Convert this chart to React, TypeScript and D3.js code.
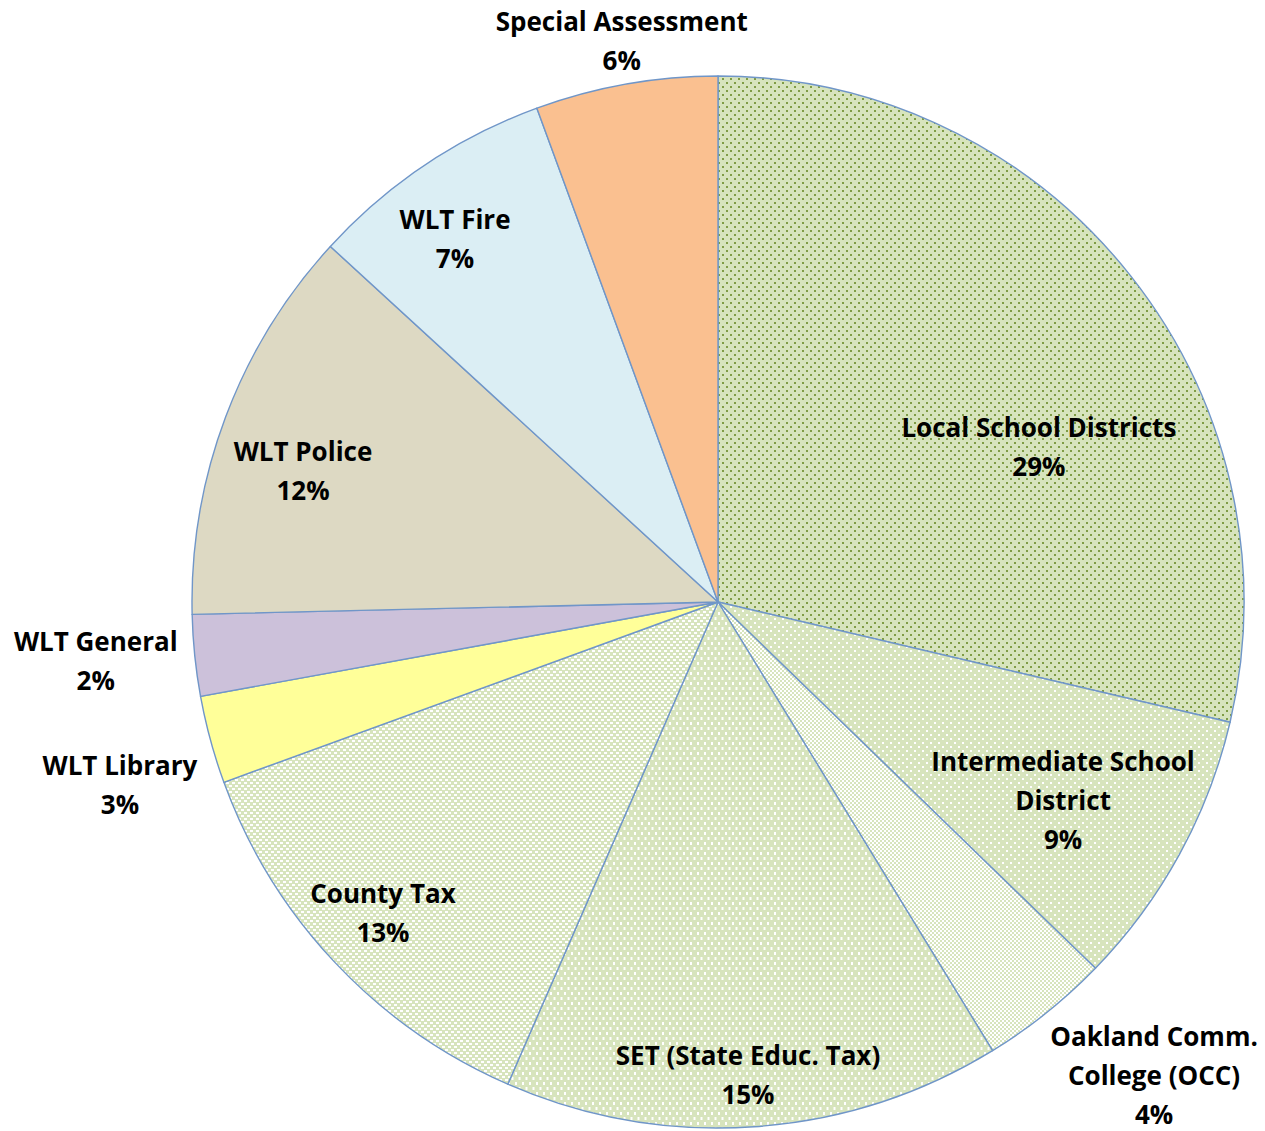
import React from "react";
import * as d3 from "d3";

const categories = [
  "Local School Districts",
  "Intermediate School|District",
  "Oakland Comm.|College (OCC)",
  "SET (State Educ. Tax)",
  "County Tax",
  "WLT Library",
  "WLT General",
  "WLT Police",
  "WLT Fire",
  "Special Assessment",
];
const values = [28.7, 8.6, 4.0, 15.3, 12.9, 2.7, 2.5, 12.2, 7.6, 5.6];
const percentLabels = ["29%", "9%", "4%", "15%", "13%", "3%", "2%", "12%", "7%", "6%"];

// label placement as fractions of the radius (x, y) from centre
const labelOffsets: [number, number][] = [
  [0.61, -0.296],
  [0.656, 0.376],
  [0.829, 0.9],
  [0.057, 0.898],
  [-0.637, 0.59],
  [-1.137, 0.347],
  [-1.183, 0.111],
  [-0.789, -0.25],
  [-0.5, -0.691],
  [-0.183, -1.067],
];

const fills = [
  "url(#pLocal)",
  "url(#pInter)",
  "url(#pOcc)",
  "url(#pSet)",
  "url(#pCounty)",
  "#ffff99",
  "#ccc1da",
  "#ddd9c3",
  "#dbeef4",
  "#fac090",
];

const W = 1265;
const H = 1131;
const cx = 718;
const cy = 602;
const R = 526;
const GREEN = "#d7e4bd";

export default function App() {
  const pie = d3
    .pie<number>()
    .sort(null)
    .value((d) => d)
    .startAngle(0)
    .endAngle(2 * Math.PI);
  const arcs = pie(values);
  const arc = d3.arc<d3.PieArcDatum<number>>().innerRadius(0).outerRadius(R);
  const fontSize = 26;
  const lineH = 39;

  return (
    <svg
      width={W}
      height={H}
      style={{ position: "absolute", left: 0, top: 0, background: "#fff" }}
    >
      <defs>
        <pattern id="pLocal" width="8" height="8" patternUnits="userSpaceOnUse">
          <rect width="8" height="8" fill={GREEN} />
          <rect x="0" y="0" width="2" height="2" fill="#7f9c45" />
          <rect x="4" y="4" width="2" height="2" fill="#7f9c45" />
        </pattern>
        <pattern id="pInter" width="8" height="8" patternUnits="userSpaceOnUse">
          <rect width="8" height="8" fill={GREEN} />
          <rect x="0" y="0" width="2" height="2" fill="#ffffff" />
          <rect x="4" y="4" width="2" height="2" fill="#ffffff" />
        </pattern>
        <pattern id="pOcc" width="4" height="4" patternUnits="userSpaceOnUse">
          <rect width="4" height="4" fill="#ffffff" />
          <rect x="0" y="0" width="2" height="2" fill={GREEN} />
          <rect x="2" y="2" width="2" height="2" fill={GREEN} />
        </pattern>
        <pattern id="pSet" width="7" height="10" patternUnits="userSpaceOnUse">
          <rect width="7" height="10" fill={GREEN} />
          <rect x="0" y="0" width="2" height="3" fill="#ffffff" />
          <rect x="3.5" y="5" width="2" height="3" fill="#ffffff" />
        </pattern>
        <pattern id="pCounty" width="6" height="6" patternUnits="userSpaceOnUse">
          <rect width="6" height="6" fill={GREEN} />
          <rect x="0" y="0" width="3" height="2" fill="#ffffff" />
          <rect x="3" y="3" width="3" height="2" fill="#ffffff" />
        </pattern>
      </defs>
      <g transform={`translate(${cx},${cy})`}>
        {arcs.map((a, i) => (
          <path
            key={categories[i]}
            d={arc(a) || ""}
            fill={fills[i]}
            stroke="#7096c8"
            strokeWidth={1.4}
            strokeLinejoin="round"
          />
        ))}
        {arcs.map((a, i) => {
          const lines = [...categories[i].split("|"), percentLabels[i]];
          const [fx, fy] = labelOffsets[i];
          const x = fx * R;
          const y = fy * R;
          const y0 = y - ((lines.length - 1) * lineH) / 2;
          return (
            <text
              key={"t" + i}
              textAnchor="middle"
              dominantBaseline="central"
              fontFamily="'Open Sans', Lato, sans-serif"
              fontWeight="bold"
              fontSize={fontSize}
              fill="#000"
            >
              {lines.map((l, j) => (
                <tspan key={j} x={x} y={y0 + j * lineH}>
                  {l}
                </tspan>
              ))}
            </text>
          );
        })}
      </g>
    </svg>
  );
}
